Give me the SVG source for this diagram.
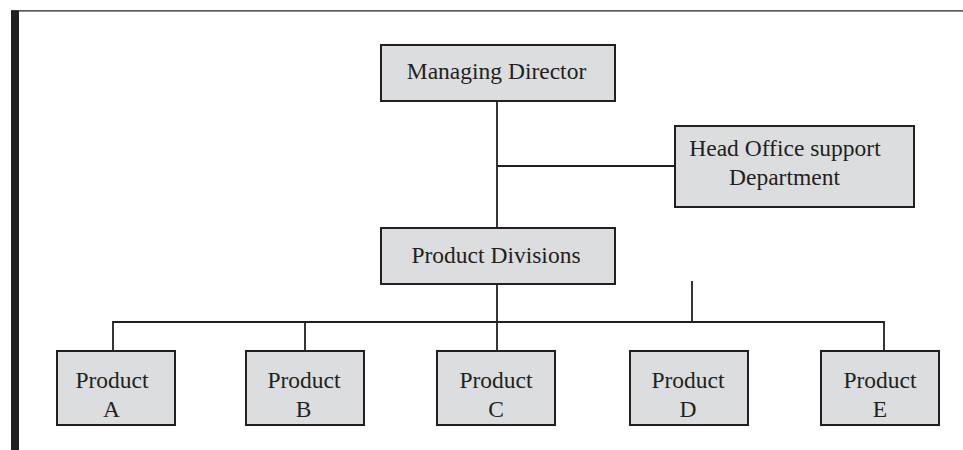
<svg xmlns="http://www.w3.org/2000/svg" width="963" height="450" viewBox="0 0 963 450">
  <style>
    .box { fill: #dcdddf; stroke: #231f20; stroke-width: 2; }
    .lbl { font-family: "Liberation Serif", "Times New Roman", serif; font-size: 23.5px; fill: #231f20; text-anchor: middle; }
    .wire { stroke: #231f20; stroke-width: 1.8; fill: none; }
  </style>
  <rect width="963" height="450" fill="#ffffff"/>

  <!-- page frame: thick left rule and thin top rule -->
  <g id="frame">
    <rect x="11" y="10.5" width="8" height="439.5" fill="#231f20"/>
    <line x1="11" y1="10.8" x2="963" y2="10.8" stroke="#231f20" stroke-width="1.2"/>
  </g>

  <!-- connectors -->
  <g id="connectors">
    <line class="wire" x1="497" y1="101" x2="497" y2="228"/>
    <line class="wire" x1="497" y1="166" x2="675" y2="166"/>
    <line class="wire" x1="497" y1="284" x2="497" y2="350"/>
    <polyline class="wire" points="113,350 113,322 884,322 884,350"/>
    <line class="wire" x1="305" y1="322" x2="305" y2="350"/>
    <line class="wire" x1="692" y1="281" x2="692" y2="322"/>
  </g>

  <g id="managing-director">
    <rect class="box" x="381" y="45" width="234" height="56"/>
    <text class="lbl" x="496.5" y="78.5">Managing Director</text>
  </g>

  <g id="head-office">
    <rect class="box" x="675" y="126" width="239" height="81"/>
    <text class="lbl" x="785" y="156">Head Office support</text>
    <text class="lbl" x="784.5" y="184.5">Department</text>
  </g>

  <g id="product-divisions">
    <rect class="box" x="381" y="228" width="234" height="56"/>
    <text class="lbl" x="496" y="263">Product Divisions</text>
  </g>

  <g id="product-a">
    <rect class="box" x="57" y="351" width="118" height="74"/>
    <text class="lbl" x="112" y="387.5">Product</text>
    <text class="lbl" x="111.5" y="416.5">A</text>
  </g>

  <g id="product-b">
    <rect class="box" x="246" y="351" width="118" height="74"/>
    <text class="lbl" x="304" y="387.5">Product</text>
    <text class="lbl" x="303.5" y="416.5">B</text>
  </g>

  <g id="product-c">
    <rect class="box" x="437" y="351" width="118" height="74"/>
    <text class="lbl" x="496" y="387.5">Product</text>
    <text class="lbl" x="496" y="416.5">C</text>
  </g>

  <g id="product-d">
    <rect class="box" x="630" y="351" width="118" height="74"/>
    <text class="lbl" x="688" y="387.5">Product</text>
    <text class="lbl" x="688" y="416.5">D</text>
  </g>

  <g id="product-e">
    <rect class="box" x="821" y="351" width="118" height="74"/>
    <text class="lbl" x="880" y="387.5">Product</text>
    <text class="lbl" x="880" y="416.5">E</text>
  </g>
</svg>
